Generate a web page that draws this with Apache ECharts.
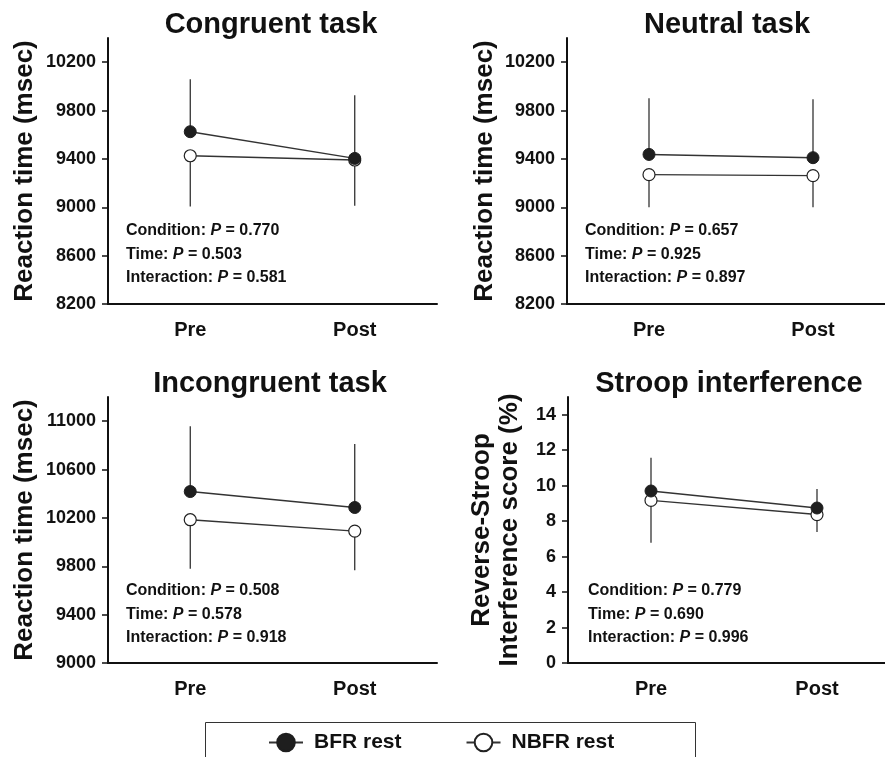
<!DOCTYPE html>
<html><head><meta charset="utf-8">
<script src="https://cdn.jsdelivr.net/npm/echarts@6/dist/echarts.min.js"></script>
<style>html,body{margin:0;padding:0;background:#fff}#c{width:885px;height:757px}</style>
</head><body><div id="c"></div>
<script>
// ---- data ----
const categories = ['Pre', 'Post'];
const seriesNames = ['BFR rest', 'NBFR rest'];
const panelTitles = ['Congruent task', 'Neutral task', 'Incongruent task', 'Stroop interference'];
const yAxisNames = ['Reaction time (msec)', 'Reaction time (msec)', 'Reaction time (msec)', 'Reverse-Stroop\nInterference score (%)'];

const congruentBFR = [9625, 9404];
const congruentNBFR = [9426, 9391];
const congruentBFRsd = [433, 522];
const congruentNBFRsd = [419, 379];

const neutralBFR = [9437, 9410];
const neutralNBFR = [9270, 9262];
const neutralBFRsd = [464, 483];
const neutralNBFRsd = [269, 261];

const incongruentBFR = [10418, 10286];
const incongruentNBFR = [10185, 10091];
const incongruentBFRsd = [541, 525];
const incongruentNBFRsd = [406, 323];

const stroopBFR = [9.70, 8.74];
const stroopNBFR = [9.17, 8.37];
const stroopBFRsd = [1.87, 1.07];
const stroopNBFRsd = [2.39, 0.98];

const rtTicks = [8200, 8600, 9000, 9400, 9800, 10200];
const incongruentTicks = [9000, 9400, 9800, 10200, 10600, 11000];
const stroopTicks = [0, 2, 4, 6, 8, 10, 12, 14];
const axisRanges = [[8200, 10400], [8200, 10400], [9000, 11200], [0, 15]];

const pCondition = ['0.770', '0.657', '0.508', '0.779'];
const pTime = ['0.503', '0.925', '0.578', '0.690'];
const pInteraction = ['0.581', '0.897', '0.918', '0.996'];

// ---- layout ----
const FONT = '"Liberation Sans", Arial, Helvetica, sans-serif';
const panels = [
  {bfr: congruentBFR, nbfr: congruentNBFR, bsd: congruentBFRsd, nsd: congruentNBFRsd, ticks: rtTicks},
  {bfr: neutralBFR, nbfr: neutralNBFR, bsd: neutralBFRsd, nsd: neutralNBFRsd, ticks: rtTicks},
  {bfr: incongruentBFR, nbfr: incongruentNBFR, bsd: incongruentBFRsd, nsd: incongruentNBFRsd, ticks: incongruentTicks},
  {bfr: stroopBFR, nbfr: stroopNBFR, bsd: stroopBFRsd, nsd: stroopNBFRsd, ticks: stroopTicks}
];
const grids = [
  {left: 108, top: 38, width: 329, height: 266},
  {left: 567, top: 38, width: 328, height: 266},
  {left: 108, top: 397, width: 329, height: 266},
  {left: 568, top: 397, width: 332, height: 266}
];
const nameGaps = [69, 68, 69, 44];
const titlePos = [[271, 25], [727, 25], [270, 384], [729, 384]];
const annotPos = [[126, 231], [585, 231], [126, 591], [588, 591]];

const INK = '#111';
const DARK = '#1e1e1e';

function errRender(params, api) {
  const c = api.value(0);
  const a = api.coord([c, api.value(1)]);
  const b = api.coord([c, api.value(2)]);
  return {type: 'line', shape: {x1: a[0], y1: a[1], x2: b[0], y2: b[1]},
          style: {stroke: '#222', lineWidth: 1.2}};
}

const option = {
  animation: false,
  backgroundColor: '#fff',
  grid: grids.map(g => Object.assign({outerBoundsMode: 'none', containLabel: false}, g)),
  xAxis: [], yAxis: [], series: [], graphic: [],
  legend: {
    data: seriesNames,
    left: 268, top: 732, padding: 0,
    itemWidth: 34, itemHeight: 22, itemGap: 64,
    selectedMode: false,
    textStyle: {fontFamily: FONT, fontSize: 21, fontWeight: 'bold', color: INK, padding: [0, 0, 0, 6]}
  }
};

panels.forEach((p, k) => {
  option.xAxis.push({
    type: 'category', gridIndex: k, data: categories, boundaryGap: true,
    axisLine: {lineStyle: {color: INK, width: 2}},
    axisTick: {alignWithLabel: true, length: 7, lineStyle: {color: INK, width: 1.5}},
    axisLabel: {margin: 16, fontFamily: FONT, fontSize: 20, fontWeight: 'bold', color: INK},
    splitLine: {show: false}
  });
  option.yAxis.push({
    type: 'value', gridIndex: k, min: axisRanges[k][0], max: axisRanges[k][1],
    name: yAxisNames[k], nameLocation: 'middle', nameGap: nameGaps[k],
    nameTextStyle: {fontFamily: FONT, fontSize: 26, fontWeight: 'bold', color: INK, lineHeight: 28},
    axisLine: {show: true, lineStyle: {color: INK, width: 2}},
    axisTick: {show: true, length: 6, customValues: p.ticks, lineStyle: {color: INK, width: 1.5}},
    axisLabel: {customValues: p.ticks, margin: 12, fontFamily: FONT, fontSize: 18, fontWeight: 'bold', color: INK,
                formatter: v => String(v)},
    splitLine: {show: false}
  });
  option.series.push({
    type: 'custom', xAxisIndex: k, yAxisIndex: k, z: 1, silent: true,
    renderItem: errRender, encode: {x: 0, y: [1, 2]},
    data: categories.map((c, i) => [c, p.bfr[i], p.bfr[i] + p.bsd[i]])
  });
  option.series.push({
    type: 'custom', xAxisIndex: k, yAxisIndex: k, z: 1, silent: true,
    renderItem: errRender, encode: {x: 0, y: [1, 2]},
    data: categories.map((c, i) => [c, p.nbfr[i] - p.nsd[i], p.nbfr[i]])
  });
  option.series.push({
    type: 'line', name: seriesNames[1], xAxisIndex: k, yAxisIndex: k, z: 2,
    data: p.nbfr, symbol: 'circle', symbolSize: 12,
    lineStyle: {color: '#333', width: 1.4},
    itemStyle: {color: '#fff', borderColor: '#222', borderWidth: 1.2}
  });
  option.series.push({
    type: 'line', name: seriesNames[0], xAxisIndex: k, yAxisIndex: k, z: 3,
    data: p.bfr, symbol: 'circle', symbolSize: 12,
    lineStyle: {color: '#333', width: 1.4},
    itemStyle: {color: DARK, borderColor: DARK, borderWidth: 1}
  });
  option.graphic.push({
    type: 'text', x: titlePos[k][0], y: titlePos[k][1], silent: true,
    style: {text: panelTitles[k], fontFamily: FONT, fontSize: 29, fontWeight: 'bold', fill: INK,
            textAlign: 'center', textVerticalAlign: 'middle'}
  });
  const lines = [['Condition: ', pCondition[k]], ['Time: ', pTime[k]], ['Interaction: ', pInteraction[k]]];
  lines.forEach((ln, j) => {
    option.graphic.push({
      type: 'text', x: annotPos[k][0], y: annotPos[k][1] + j * 23.5, silent: true,
      style: {
        text: '{n|' + ln[0] + '}{i|P}{n| = ' + ln[1] + '}',
        textAlign: 'left', textVerticalAlign: 'middle',
        rich: {
          n: {fontFamily: FONT, fontSize: 16, fontWeight: 'bold', fill: INK, color: INK},
          i: {fontFamily: FONT, fontSize: 16, fontWeight: 'bold', fontStyle: 'italic', fill: INK, color: INK}
        }
      }
    });
  });
});

option.graphic.push({
  type: 'rect', silent: true, z: -1,
  shape: {x: 205.5, y: 722.5, width: 490, height: 60},
  style: {fill: 'none', stroke: '#333', lineWidth: 1}
});

const chart = echarts.init(document.getElementById('c'), null, {renderer: 'canvas'});
chart.setOption(option);
</script></body></html>
